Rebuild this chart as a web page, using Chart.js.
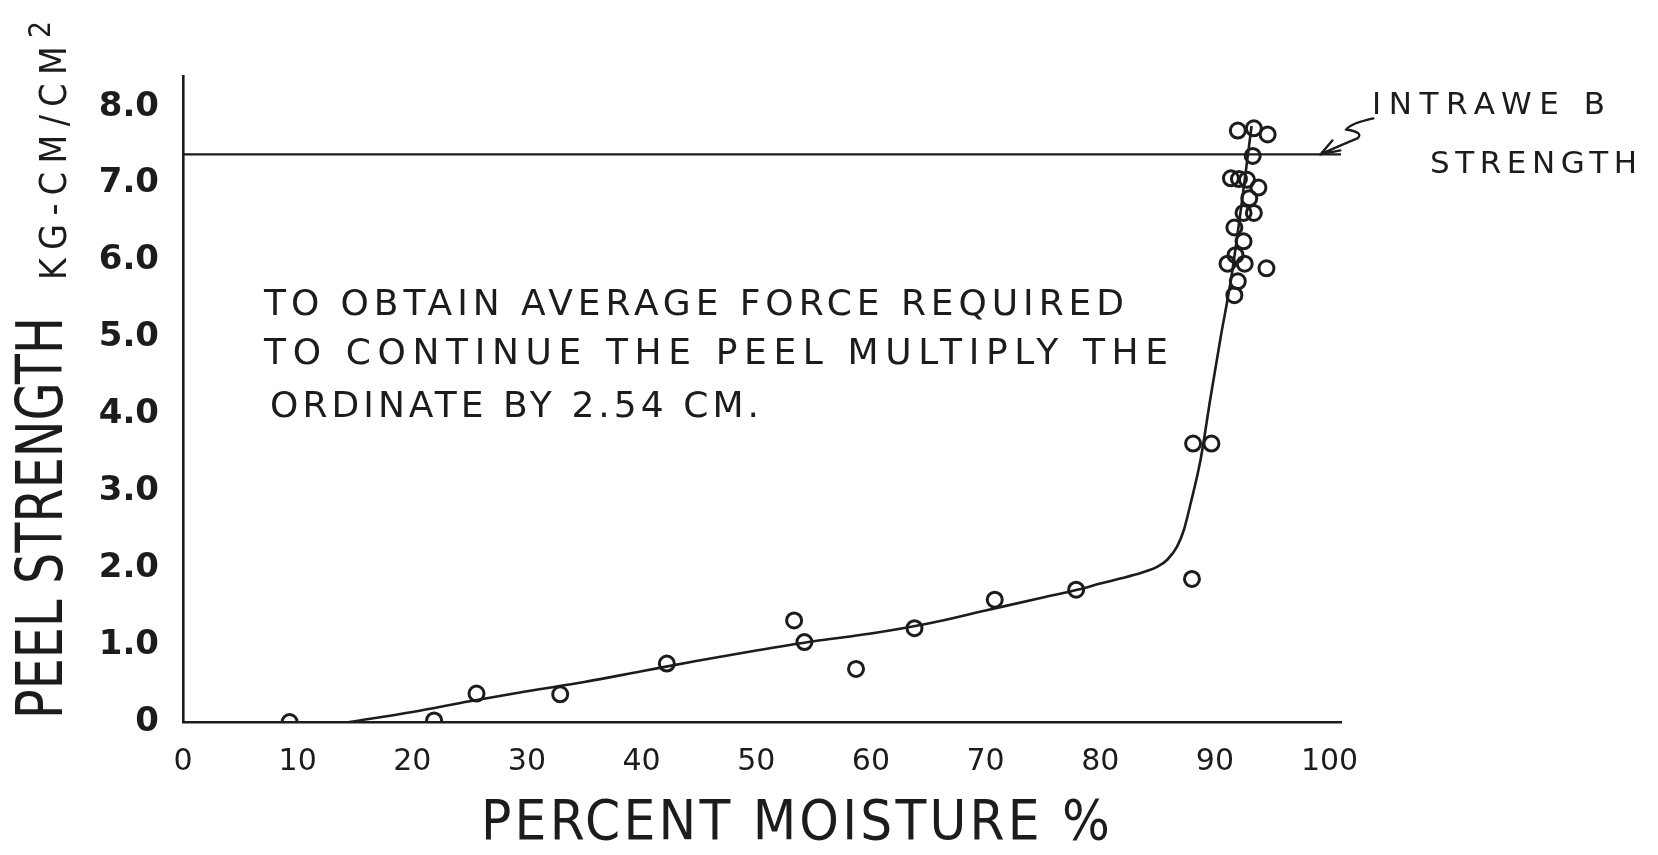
<!DOCTYPE html>
<html>
<head>
<meta charset="utf-8">
<script src="https://cdn.jsdelivr.net/npm/chart.js@4.4.1/dist/chart.umd.min.js"></script>
<style>
  html, body { margin: 0; padding: 0; background: #fff; }
  #wrap { position: relative; width: 1658px; height: 855px; overflow: hidden; }
  #chart { position: absolute; left: 0; top: 0; }
  .lbl {
    position: absolute; white-space: nowrap; line-height: 1; color: #1c1c1c;
    font-family: 'Liberation Sans Narrow', 'DejaVu Sans Condensed', 'DejaVu Sans', sans-serif;
  }
  .lbl.hand { font-family: 'DejaVu Sans', sans-serif; }
  .rot { transform-origin: 0 0; }
  sup { font-size: 0.8em; vertical-align: 0.55em; line-height: 0; }
</style>
</head>
<body>
<div id="wrap">
  <canvas id="chart" width="1658" height="855"></canvas>
  <div class="lbl hand" id="note1" style="font-size:36px">TO OBTAIN AVERAGE FORCE REQUIRED</div>
  <div class="lbl hand" id="note2" style="font-size:36px">TO CONTINUE THE PEEL MULTIPLY THE</div>
  <div class="lbl hand" id="note3" style="font-size:36px">ORDINATE BY 2.54 CM.</div>
  <div class="lbl hand" id="iw1" style="font-size:31px">INTRAWE B</div>
  <div class="lbl hand" id="iw2" style="font-size:31px">STRENGTH</div>
  <div class="lbl" id="xTitle" style="font-size:56px">PERCENT MOISTURE %</div>
  <div class="lbl rot" id="yTitle" style="font-size:64px">PEEL STRENGTH</div>
  <div class="lbl rot" id="yUnit" style="font-size:37px">KG-CM/CM<sup>2</sup></div>
</div>

<script>
'use strict';

// ── Data ───────────────────────────────────────────────
const moisture = [9.3, 21.9, 25.6, 32.9, 42.2, 53.3, 54.2, 58.7, 63.8, 70.8, 77.9,
                  88.0, 88.1, 89.7,
                  92.0, 93.4, 94.6, 93.3, 91.4, 92.1, 92.8, 93.8, 93.0, 92.5, 93.4,
                  91.7, 92.5, 91.8, 91.1, 92.6, 94.5, 92.0, 91.7];
const peel     = [0.00, 0.02, 0.37, 0.36, 0.76, 1.32, 1.04, 0.69, 1.22, 1.59, 1.72,
                  1.86, 3.62, 3.62,
                  7.69, 7.72, 7.64, 7.36, 7.07, 7.06, 7.05, 6.95, 6.81, 6.62, 6.62,
                  6.43, 6.25, 6.07, 5.96, 5.96, 5.90, 5.73, 5.55];

// fitted curve drawn through the points
const curveX = [14.5, 20, 25, 30, 35, 40, 45, 50, 55, 60, 65, 70, 75, 78, 80, 82.9, 85,
                85.85, 86.7, 87.3, 87.9, 88.75, 89.6, 90.5, 91.4, 92.3, 93.2];
const curveY = [0, 0.13, 0.27, 0.40, 0.52, 0.66, 0.80, 0.93, 1.05, 1.15, 1.28, 1.45, 1.62, 1.72, 1.80, 1.91, 2.02,
                2.11, 2.28, 2.50, 2.85, 3.41, 4.20, 5.00, 5.75, 6.70, 7.75];

// intraweb strength level
const intrawebX = [0, 101];
const intrawebY = [7.38, 7.38];

const xTicks = [0, 10, 20, 30, 40, 50, 60, 70, 80, 90, 100];
const yTicks = [0, 1, 2, 3, 4, 5, 6, 7, 8];

const INK = '#1c1c1c';

// ── Arrow from the label to the intraweb line ──────────
const arrowPlugin = {
  id: 'arrow',
  afterDatasetsDraw(chart) {
    const { ctx, scales: { x, y } } = chart;
    const tx = x.getPixelForValue(99.2);
    const ty = y.getPixelForValue(intrawebY[0]);
    ctx.save();
    ctx.strokeStyle = INK;
    ctx.lineWidth = 2.4;
    ctx.lineCap = 'round';
    ctx.beginPath();
    ctx.moveTo(tx + 53, ty - 36);
    ctx.quadraticCurveTo(tx + 30, ty - 31, tx + 26, ty - 25);
    ctx.quadraticCurveTo(tx + 44, ty - 22, tx + 37, ty - 16);
    ctx.quadraticCurveTo(tx + 20, ty - 9, tx, ty);
    ctx.moveTo(tx, ty);
    ctx.lineTo(tx + 12, ty - 14);
    ctx.moveTo(tx, ty);
    ctx.lineTo(tx + 20, ty - 4);
    ctx.stroke();
    ctx.restore();
  }
};

new Chart(document.getElementById('chart'), {
  type: 'scatter',
  data: {
    datasets: [
      {
        label: 'Intraweb strength',
        type: 'line',
        data: intrawebX.map((v, i) => ({ x: v, y: intrawebY[i] })),
        borderColor: INK,
        borderWidth: 2.2,
        pointRadius: 0,
        fill: false
      },
      {
        label: 'Fitted curve',
        type: 'line',
        data: curveX.map((v, i) => ({ x: v, y: curveY[i] })),
        borderColor: INK,
        borderWidth: 2.6,
        pointRadius: 0,
        cubicInterpolationMode: 'monotone',
        fill: false
      },
      {
        label: 'Peel strength',
        data: moisture.map((v, i) => ({ x: v, y: peel[i] })),
        pointStyle: 'circle',
        pointRadius: 7.5,
        pointBorderWidth: 3,
        pointBorderColor: INK,
        pointBackgroundColor: 'rgba(255,255,255,0)'
      }
    ]
  },
  options: {
    responsive: false,
    animation: false,
    events: [],
    layout: { padding: { left: 0, right: 317, top: 76, bottom: 0 } },
    plugins: {
      legend: { display: false },
      tooltip: { enabled: false },
      title: { display: false }
    },
    scales: {
      x: {
        type: 'linear',
        min: 0,
        max: 101,
        afterFit: s => { s.height = 133; },
        afterBuildTicks: s => { s.ticks = xTicks.map(v => ({ value: v })); },
        grid: { display: false, drawTicks: false },
        border: { display: true, color: INK, width: 2.6 },
        ticks: {
          color: INK,
          padding: 22,
          maxRotation: 0,
          font: { family: 'DejaVu Sans', size: 30 },
          callback: v => String(v)
        }
      },
      y: {
        type: 'linear',
        min: 0,
        max: 8.4,
        afterFit: s => { s.width = 183; },
        afterBuildTicks: s => { s.ticks = yTicks.map(v => ({ value: v })); },
        grid: { display: false, drawTicks: false },
        border: { display: true, color: INK, width: 2.6 },
        ticks: {
          color: INK,
          padding: 24,
          font: { family: 'DejaVu Sans', size: 34, weight: 'bold' },
          callback: v => v === 0 ? '0' : v.toFixed(1)
        }
      }
    }
  },
  plugins: [arrowPlugin]
});

// ── Hand-lettered labels: fit each to the width it has in the drawing ──
function fitWidth(el, target) {
  const w = el.getBoundingClientRect().width;
  const n = el.textContent.length;
  if (w < target) {
    el.style.letterSpacing = ((target - w) / (n - 1)) + 'px';
    return 1;
  }
  return target / w;
}

function placeText(id, left, right, cy) {
  const el = document.getElementById(id);
  const k = fitWidth(el, right - left);
  const h = el.getBoundingClientRect().height;
  el.style.left = left + 'px';
  el.style.top = (cy - h / 2) + 'px';
  if (k < 1) {
    el.style.transformOrigin = '0 0';
    el.style.transform = `scaleX(${k})`;
  }
}

function placeVertical(id, bottom, length, left) {
  const el = document.getElementById(id);
  const k = fitWidth(el, length);
  el.style.left = left + 'px';
  el.style.top = bottom + 'px';
  el.style.transform = `rotate(-90deg) scaleX(${k})`;
}

placeText('note1', 264, 1124, 303);
placeText('note2', 264, 1168, 352);
placeText('note3', 270, 759, 405);
placeText('iw1', 1372, 1605, 103);
placeText('iw2', 1430, 1637, 162);
placeText('xTitle', 481, 1110, 820);
placeVertical('yTitle', 719, 402, 8);
placeVertical('yUnit', 280, 259, 35);
</script>
</body>
</html>
